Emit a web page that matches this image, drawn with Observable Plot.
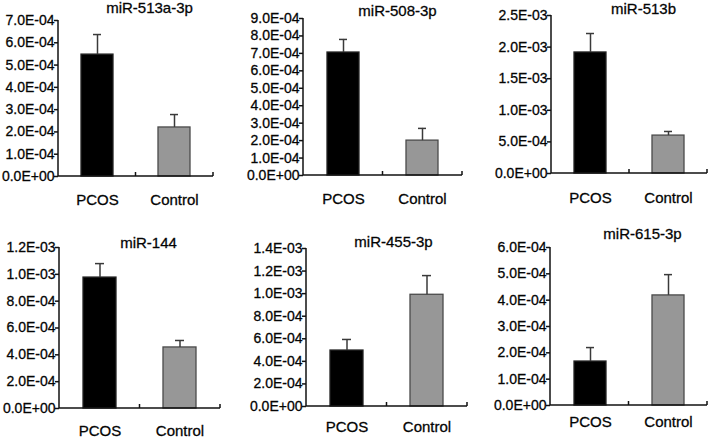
<!DOCTYPE html>
<html>
<head>
<meta charset="utf-8">
<script src="https://cdn.jsdelivr.net/npm/d3@7"></script>
<script src="https://cdn.jsdelivr.net/npm/@observablehq/plot@0.6"></script>
<style>
  html, body { margin: 0; padding: 0; background: #fff; }
  #chart { position: relative; width: 709px; height: 438px; overflow: hidden; background: #fff; }
  #chart > div { position: absolute; }
  #chart svg text { stroke: #111; stroke-width: 0.3px; }
</style>
</head>
<body>
<div id="chart"></div>
<script>
// ---- data ----
const titles = ["miR-513a-3p", "miR-508-3p", "miR-513b", "miR-144", "miR-455-3p", "miR-615-3p"];
const groups = ["PCOS", "Control"];
const pcosMean = [5.47e-4, 7.05e-4, 1.915e-3, 0.976e-3, 0.496e-3, 1.67e-4];
const pcosUpper = [6.37e-4, 7.80e-4, 2.215e-3, 1.080e-3, 0.594e-3, 2.20e-4];
const controlMean = [2.20e-4, 2.00e-4, 0.600e-3, 0.455e-3, 0.990e-3, 4.18e-4];
const controlUpper = [2.78e-4, 2.70e-4, 0.665e-3, 0.507e-3, 1.160e-3, 4.97e-4];
const yMax = [7e-4, 9e-4, 2.5e-3, 1.2e-3, 1.4e-3, 6e-4];
const yStep = [1e-4, 1e-4, 5e-4, 2e-4, 2e-4, 1e-4];

// ---- layout (page pixel positions of each panel's plot area) ----
const layout = [
  {left: 58,  top: 20,  bottom: 176, right: 213, tdx: 13.5, tdy: -12.5, lab: 17.6},
  {left: 303, top: 18,  bottom: 175, right: 462, tdx: 14.5, tdy: -7,    lab: 17.6},
  {left: 551, top: 15,  bottom: 173, right: 707, tdx: 14,   tdy: -6,    lab: 18.6},
  {left: 59,  top: 247, bottom: 408, right: 220, tdx: 8.5,  tdy: -4,    lab: 16.6},
  {left: 306, top: 248, bottom: 406, right: 467, tdx: 6.5,  tdy: -6.3,  lab: 14.6},
  {left: 550, top: 247, bottom: 405, right: 707, tdx: 13.5, tdy: -13,   lab: 10.6}
];
const fills = {PCOS: "#000000", Control: "#979797"};
const strokes = {PCOS: "#222222", Control: "#4a4a4a"};
const FONT = "'Liberation Sans', Arial, Helvetica, sans-serif";

const fmtE = v => {
  const [m, e] = (+v).toExponential(1).split("e");
  const s = e[0] === "-" ? "-" : "+";
  const d = e.replace(/^[+-]/, "").padStart(2, "0");
  return `${m}E${s}${d}`;
};

const ML = 58, MR = 2, MT = 20, MB = 40;
const container = document.getElementById("chart");

titles.forEach((title, i) => {
  const L = layout[i];
  const data = [
    {group: groups[0], mean: pcosMean[i], upper: pcosUpper[i]},
    {group: groups[1], mean: controlMean[i], upper: controlUpper[i]}
  ];
  const ticks = d3.range(0, yMax[i] + yStep[i] / 2, yStep[i]);
  const width = ML + (L.right - L.left) + MR;
  const height = MT + (L.bottom - L.top) + MB;

  const axes = (index, scales, values, dimensions) => {
    const {marginLeft, marginRight, width: w} = dimensions;
    const y0 = scales.y(0), yTop = scales.y(yMax[i]);
    const xl = marginLeft, xr = w - marginRight, xm = (xl + xr) / 2;
    const g = d3.create("svg:g").attr("stroke", "#111").attr("stroke-width", 1.5).attr("fill", "none");
    g.append("line").attr("x1", xl).attr("x2", xl).attr("y1", y0).attr("y2", yTop);
    g.append("line").attr("x1", xl).attr("x2", xr).attr("y1", y0).attr("y2", y0);
    g.append("line").attr("x1", xm).attr("x2", xm).attr("y1", y0).attr("y2", y0 - 4);
    g.append("line").attr("x1", xr).attr("x2", xr).attr("y1", y0).attr("y2", y0 - 4);
    return g.node();
  };

  const plot = Plot.plot({
    width, height,
    marginLeft: ML, marginRight: MR, marginTop: MT, marginBottom: MB,
    style: {fontFamily: FONT, overflow: "visible", background: "transparent", color: "#000"},
    x: {domain: groups, paddingInner: 0.59, paddingOuter: 0.295, label: null, axis: null},
    y: {domain: [0, yMax[i]], label: null, axis: null},
    marks: [
      Plot.barY(data, {x: "group", y: "mean", fill: d => fills[d.group], stroke: d => strokes[d.group], strokeWidth: 1.3}),
      Plot.ruleX(data, {x: "group", y1: "mean", y2: "upper", stroke: "#3a3a3a", strokeWidth: 1.5}),
      Plot.tickY(data, {x: "group", y: "upper", stroke: "#3a3a3a", strokeWidth: 1.5, insetLeft: 12, insetRight: 12}),
      Plot.axisY({ticks, tickFormat: fmtE, tickSize: 4, tickPadding: 0, fontSize: 14, stroke: "#111", strokeWidth: 1.5, label: null}),
      Plot.axisX({tickSize: 0, tickPadding: L.lab, fontSize: 15, label: null}),
      axes,
      Plot.text([title], {frameAnchor: "top", dx: L.tdx, dy: L.tdy, fontSize: 15, fill: "#000", lineAnchor: "middle"})
    ]
  });
  const wrap = document.createElement("div");
  wrap.style.left = (L.left - ML) + "px";
  wrap.style.top = (L.top - MT) + "px";
  wrap.appendChild(plot);
  container.appendChild(wrap);
});
</script>
</body>
</html>
